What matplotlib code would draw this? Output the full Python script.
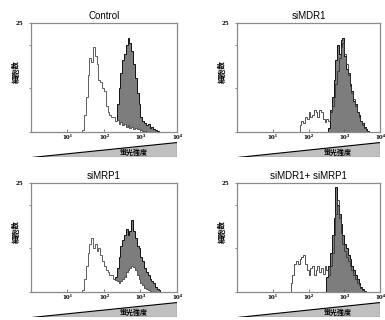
import numpy as np
import matplotlib.pyplot as plt
from matplotlib.ticker import LogLocator, NullFormatter

# histogram data: bins are 0.05 decade wide, listed from a start value (log10)
bin_w = 0.05
titles = ['Control', 'siMDR1', 'siMRP1', 'siMDR1+ siMRP1']

open_start = [1.35, 1.70, 1.35, 1.45]
open_counts = [
    [0, 0.5, 4, 8, 13, 17, 16, 19.5, 17.5, 15.5, 12, 11.5, 10, 9.5, 6, 4.5, 4, 3.5,
     3.5, 2.5, 2.8, 1.8, 2.2, 1.5, 1.8, 1.2, 1.5, 1, 1.2, 0.8, 1, 0.6, 0.7, 0.4, 0.3, 0.2],
    [0, 1.5, 2.5, 2, 3.5, 3, 4.5, 3.5, 4, 5, 4.5, 3.5, 5, 4.5, 3, 2.2, 3, 2.5, 4.5, 6,
     8, 11, 14, 17, 19.5, 20.5, 18, 15.5, 13, 10.5, 9, 7.5, 6, 4.5, 3.5, 2.5, 1.5, 1,
     0.5, 0.2],
    [0, 0.5, 3, 6, 9, 11, 12.5, 10, 11, 9.5, 10, 8.5, 7, 6, 5, 4.5, 4, 3.8, 3, 2.8,
     2.5, 2, 2.5, 3, 3.5, 4.5, 5, 5.5, 6, 5.8, 5, 4, 3, 2, 1.5, 1, 0.8, 0.5, 0.3],
    [0, 2, 4, 6.5, 7, 6.5, 7.5, 8, 8.5, 6.5, 5, 4, 5.5, 6, 4, 5, 6, 4.5, 5.5, 4.2, 6,
     5, 4, 6, 9, 13, 18, 21, 17, 13.5, 11, 9.5, 8, 7, 6, 5, 4, 3, 2, 1.5, 1, 0.5, 0.2],
]
# white-filled outline where the open curve hides the grey one
open_fill = [True, False, True, False]

filled_start = [2.25, 2.55, 2.25, 2.50]
filled_counts = [
    [0.5, 2.5, 6.5, 10, 13.5, 16.5, 18, 20, 21.5, 20.5, 18.5, 15.5, 12.5, 9, 6.5, 3.5,
     2.5, 2, 1.5, 1.8, 1, 1.2, 0.6, 0.5, 0.2],
    [1, 5, 8, 12, 16.5, 20, 18, 21, 21.5, 17.5, 14.5, 13.5, 11, 9.5, 7, 6.5, 4.5, 3.8,
     2.5, 2, 1.2, 0.6, 0.2],
    [1, 3.5, 5.5, 8, 10.5, 12, 13, 14.5, 13, 14, 16.5, 14, 12.5, 10.5, 10, 8, 7, 5.5,
     4.5, 4, 3, 2.5, 2, 1.2, 0.8, 0.4],
    [3.5, 6, 9, 13, 17, 24, 20, 18, 15.5, 13, 11, 10, 8.5, 7.5, 6, 5, 4, 3, 2, 1.2, 0.6,
     0.2],
]

jp = ['Noto Sans CJK JP', 'DejaVu Sans']

fig = plt.figure(figsize=(3.85, 3.2), dpi=100)

lefts = [0.0805, 0.6156, 0.0805, 0.6156]
widths = [0.379, 0.3714, 0.379, 0.3714]
bottoms = [0.5875, 0.5875, 0.0875, 0.0875]
wedge_bottoms = [0.5094, 0.5094, 0.0094, 0.0094]

for i in range(4):
    ax = fig.add_axes([lefts[i], bottoms[i], widths[i], 0.3406])
    oc = np.array(open_counts[i])
    fc = np.array(filled_counts[i])
    oe = 10 ** (open_start[i] + bin_w * np.arange(len(oc) + 1))
    fe = 10 ** (filled_start[i] + bin_w * np.arange(len(fc) + 1))
    ax.stairs(fc, fe, fill=True, facecolor='#7d7d7d', edgecolor='#111111', lw=0.7)
    if open_fill[i]:
        ax.stairs(oc, oe, fill=True, facecolor='white', edgecolor='#444444', lw=0.6)
    else:
        ax.stairs(oc, oe, color='#333333', lw=0.6)

    ax.set_xscale('log')
    ax.set_xlim(1, 1e4)
    ax.set_ylim(0, 25)
    ax.set_xticks([10, 100, 1000, 10000])
    ax.set_xticklabels(['10¹', '10²', '10³', '10⁴'], fontsize=4, family='DejaVu Serif',
                       fontweight='bold')
    ax.xaxis.set_minor_locator(LogLocator(base=10, subs=np.arange(2, 10)))
    ax.xaxis.set_minor_formatter(NullFormatter())
    ax.tick_params(axis='x', which='major', direction='in', length=2, width=0.5, pad=2,
                   color='#555555')
    ax.tick_params(axis='x', which='minor', direction='in', length=1.2, width=0.4,
                   color='#555555')
    ax.set_yticks([0, 10, 20, 25])
    ax.set_yticklabels(['', '', '', '25'], fontsize=4, family='DejaVu Serif',
                       fontweight='bold')
    ax.tick_params(axis='y', direction='out', length=1.5, width=0.5, pad=4,
                   color='#555555')
    for s in ax.spines.values():
        s.set_color('#8a8a8a')
        s.set_linewidth(0.9)
    ax.set_title(titles[i], fontsize=7, family='Liberation Sans', pad=3)
    ax.text(-0.103, 0.55, '細胞数', transform=ax.transAxes, rotation=90,
            ha='center', va='center', fontsize=5.5, family=jp, fontweight='bold')

    # fluorescence intensity wedge under the axis
    wx = fig.add_axes([lefts[i], wedge_bottoms[i], widths[i], 0.047])
    wx.fill([0, 1, 1], [0, 0, 1], facecolor='#c0c0c0', edgecolor='black', lw=0.8)
    wx.set_xlim(0, 1)
    wx.set_ylim(0, 1)
    wx.axis('off')
    wx.text(0.7, 0.3, '蛍光強度', ha='center', va='center', fontsize=5,
            family=jp, fontweight='bold')

plt.savefig('out.png', dpi=100)
